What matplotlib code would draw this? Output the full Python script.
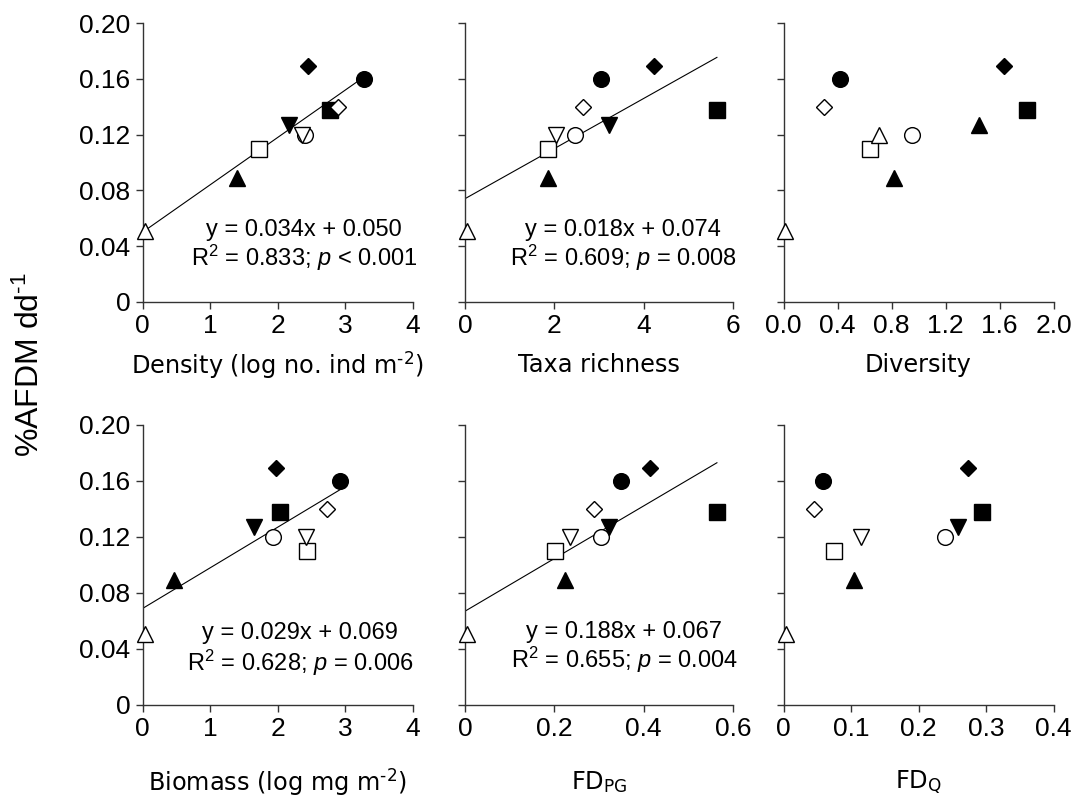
import matplotlib
matplotlib.use("Agg")
import matplotlib.pyplot as plt
import numpy as np

plt.rcParams['font.family'] = ['Liberation Sans', 'DejaVu Sans']
plt.rcParams['mathtext.fontset'] = 'custom'
plt.rcParams['mathtext.rm'] = 'Liberation Sans'
plt.rcParams['mathtext.it'] = 'Liberation Sans:italic'
plt.rcParams['mathtext.bf'] = 'Liberation Sans:bold'

# ---- data (one value per site) ----
markers = ['^', '^', 's', 's', 'o', 'o', 'D', 'D', 'v', 'v']
filled = [False, True, False, True, False, True, False, True, True, False]
afdm = [0.051, 0.089, 0.110, 0.138, 0.120, 0.160, 0.140, 0.169, 0.127, 0.120]

density = [0.03, 1.40, 1.73, 2.77, 2.40, 3.28, 2.90, 2.45, 2.17, 2.36]
richness = [0.05, 1.85, 1.85, 5.64, 2.46, 3.04, 2.65, 4.24, 3.22, 2.04]
diversity = [0.01, 0.815, 0.64, 1.80, 0.95, 0.415, 0.30, 1.63, 1.445, 0.71]
biomass = [0.035, 0.47, 2.43, 2.04, 1.93, 2.92, 2.73, 1.98, 1.645, 2.42]
fd_pg = [0.005, 0.223, 0.2015, 0.564, 0.305, 0.35, 0.289, 0.415, 0.3225, 0.236]
fd_q = [0.003, 0.104, 0.075, 0.2945, 0.2396, 0.059, 0.045, 0.274, 0.259, 0.115]

HY = '\u2010'
xlabels = ['Density (log no. ind m$^{\\mathregular{' + HY + '2}}$)', 'Taxa richness', 'Diversity',
           'Biomass (log mg m$^{\\mathregular{' + HY + '2}}$)', 'FD$_{\\mathregular{PG}}$', 'FD$_{\\mathregular{Q}}$']
xticks = [[0, 1, 2, 3, 4], [0, 2, 4, 6], [0.0, 0.4, 0.8, 1.2, 1.6, 2.0],
          [0, 1, 2, 3, 4], [0, 0.2, 0.4, 0.6], [0, 0.1, 0.2, 0.3, 0.4]]
xticklabels = [['0', '1', '2', '3', '4'], ['0', '2', '4', '6'],
               ['0.0', '0.4', '0.8', '1.2', '1.6', '2.0'],
               ['0', '1', '2', '3', '4'], ['0', '0.2', '0.4', '0.6'],
               ['0', '0.1', '0.2', '0.3', '0.4']]
yticks = [0, 0.04, 0.08, 0.12, 0.16, 0.20]
yticklabels = ['0', '0.04', '0.08', '0.12', '0.16', '0.20']

slopes = [0.034, 0.018, None, 0.029, 0.188, None]
intercepts = [0.050, 0.074, None, 0.069, 0.067, None]
eq_lines = ['y = 0.034x + 0.050', 'y = 0.018x + 0.074', None,
            'y = 0.029x + 0.069', 'y = 0.188x + 0.067', None]
stat_lines = ['R$^{\\mathregular{2}}$ = 0.833; $p$ < 0.001', 'R$^{\\mathregular{2}}$ = 0.609; $p$ = 0.008', None,
              'R$^{\\mathregular{2}}$ = 0.628; $p$ = 0.006', 'R$^{\\mathregular{2}}$ = 0.655; $p$ = 0.004', None]

xdata = [density, richness, diversity, biomass, fd_pg, fd_q]

# ---- layout ----
W, H = 1071, 800
fig = plt.figure(figsize=(W / 100, H / 100), dpi=100)
cols = [(142.7, 270), (465, 268), (783.5, 270)]
rows = [(23.3, 301.7), (425, 705)]
txt_pos = [(0.597, 0.258, 0.157), (0.590, 0.258, 0.157), None,
           (0.583, 0.257, 0.150), (0.593, 0.262, 0.160), None]
label_font = dict(family=['DejaVu Sans'], fontsize=17.3)
label_y = [365, 782]

for i in range(6):
    r, c = divmod(i, 3)
    x0, w = cols[c]
    top, bot = rows[r]
    ax = fig.add_axes([x0 / W, 1 - bot / H, w / W, (bot - top) / H])
    xs = xdata[i]
    for k in range(len(afdm)):
        m = markers[k]
        if i == 2 and m == 'v':
            m = '^'
        ms = 8.0 if m == 'D' else 11.3
        ax.plot(xs[k], afdm[k], marker=m, linestyle='none', markersize=ms,
                markerfacecolor='black' if filled[k] else 'white',
                markeredgecolor='black', markeredgewidth=1.0, clip_on=False, zorder=3)
    if slopes[i] is not None:
        xl = np.array([0, max(xs)])
        ax.plot(xl, slopes[i] * xl + intercepts[i], color='black', linewidth=0.8, zorder=2)
        tx, ty1, ty2 = txt_pos[i]
        ax.text(tx, ty1, eq_lines[i], transform=ax.transAxes, ha='center', va='center', fontsize=17)
        ax.text(tx, ty2, stat_lines[i], transform=ax.transAxes, ha='center', va='center', fontsize=17)
    ax.set_xlim(xticks[i][0], xticks[i][-1])
    ax.set_ylim(0, 0.20)
    ax.set_xticks(xticks[i])
    ax.set_xticklabels(xticklabels[i])
    ax.set_yticks(yticks)
    if c == 0:
        ax.set_yticklabels(yticklabels)
    else:
        ax.set_yticklabels([])
    for s in ['top', 'right']:
        ax.spines[s].set_visible(False)
    for s in ['left', 'bottom']:
        ax.spines[s].set_linewidth(1.0)
        ax.spines[s].set_color('#333333')
    ax.tick_params(direction='out', length=5, width=1.0, color='#333333', labelsize=19, pad=4)
    fig.text((x0 + w / 2) / W, 1 - label_y[r] / H, xlabels[i], ha='center', va='center', **label_font)

fig.text(30 / W, 1 - 365 / H, '%AFDM dd$^{\\mathregular{' + HY + '1}}$', rotation=90,
         ha='center', va='center', fontsize=23)

fig.savefig('out.png', dpi=100)
